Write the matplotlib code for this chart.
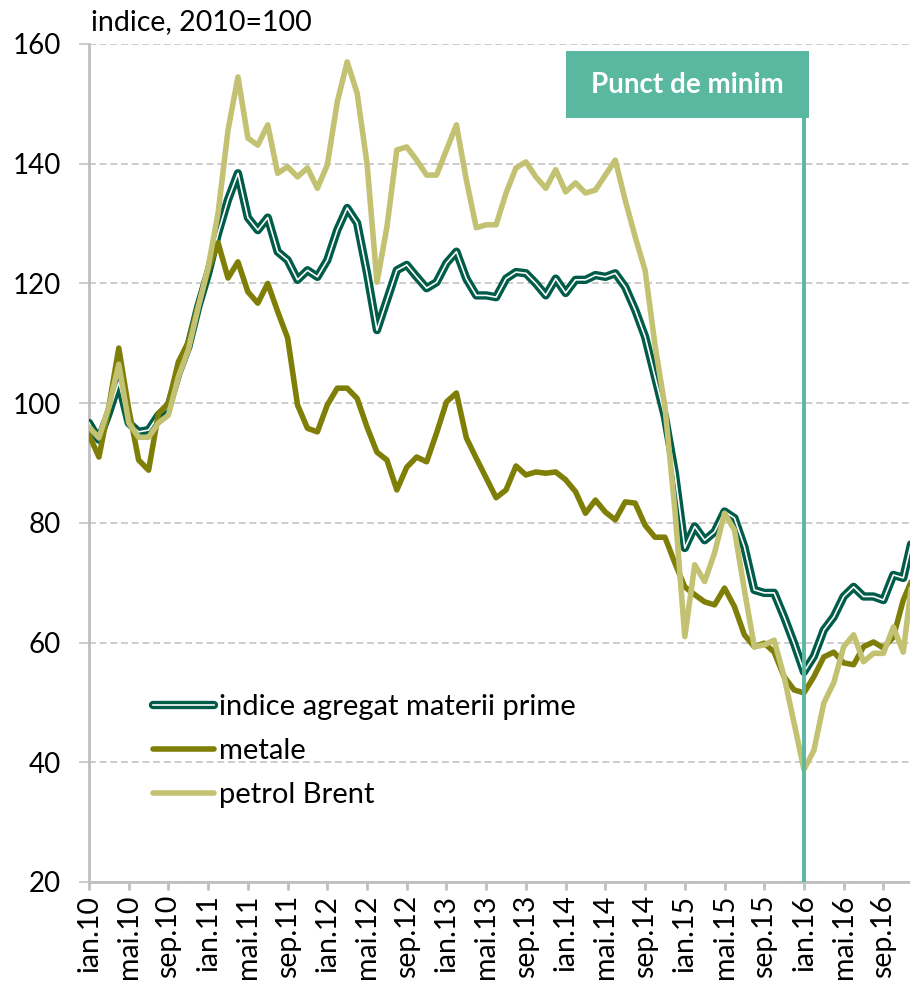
import matplotlib
matplotlib.use("Agg")
import matplotlib.pyplot as plt
from matplotlib.lines import Line2D
from matplotlib.patches import Rectangle
from matplotlib.legend_handler import HandlerTuple
import numpy as np

plt.rcParams['font.family'] = ['Lato', 'DejaVu Sans']

# monthly data, ian.10 ... dec.16 (last point partly clipped)
agregat = [96.7, 93.9, 98.4, 103.5, 96.7, 95.2, 95.5, 98.0, 99.4, 105.0,
           109.4, 116.1, 121.7, 128.4, 134.0, 138.4, 131.0, 128.9, 131.0, 125.3,
           123.9, 120.6, 122.2, 121.1, 123.9, 128.9, 132.6, 130.1, 121.7, 112.2,
           117.2, 122.2, 123.1, 121.1, 119.2, 120.2, 123.4, 125.3, 120.8, 118.0,
           118.0, 117.7, 120.8, 121.9, 121.7, 120.0, 118.0, 120.8, 118.4, 120.6,
           120.6, 121.4, 121.1, 121.7, 119.4, 115.6, 111.1, 104.4, 97.7, 88.3,
           75.8, 79.4, 77.1, 78.5, 81.9, 80.8, 76.0, 68.8, 68.3, 68.3,
           64.3, 59.9, 55.1, 57.7, 62.1, 64.3, 67.7, 69.3, 67.7, 67.7,
           67.1, 71.3, 70.8, 78.0]
metale = [94.7, 91.0, 99.4, 109.2, 99.0, 90.5, 88.8, 98.3, 100.0, 106.9,
          110.2, 116.4, 122.2, 126.8, 120.9, 123.6, 118.6, 116.7, 120.0, 115.3,
          110.9, 99.7, 95.8, 95.2, 99.7, 102.5, 102.5, 100.8, 96.0, 91.8,
          90.5, 85.5, 89.3, 91.0, 90.2, 95.0, 100.2, 101.7, 94.2, 90.8,
          87.5, 84.2, 85.5, 89.5, 88.0, 88.5, 88.3, 88.5, 87.2, 85.2,
          81.6, 83.8, 81.8, 80.5, 83.5, 83.3, 79.6, 77.6, 77.6, 73.3,
          69.3, 68.0, 66.8, 66.3, 69.1, 66.0, 61.3, 59.3, 59.9, 58.4,
          54.3, 52.1, 51.6, 54.3, 57.6, 58.4, 56.6, 56.3, 59.3, 60.1,
          59.1, 60.9, 67.1, 71.0]
brent = [96.0, 94.2, 99.4, 106.5, 96.7, 94.3, 94.3, 96.7, 98.0, 104.4,
         108.9, 116.0, 122.7, 131.8, 145.6, 154.5, 144.3, 143.1, 146.5, 138.4,
         139.5, 137.8, 139.3, 135.9, 139.8, 150.3, 157.0, 151.8, 140.0, 120.2,
         129.4, 142.3, 142.8, 140.6, 138.1, 138.1, 142.3, 146.5, 137.3, 129.3,
         129.8, 129.8, 135.1, 139.3, 140.3, 137.8, 135.9, 139.0, 135.3, 136.8,
         135.1, 135.6, 138.1, 140.6, 133.9, 127.8, 122.2, 109.7, 99.4, 82.2,
         61.0, 73.0, 70.2, 75.0, 81.6, 78.8, 68.8, 59.3, 59.6, 60.4,
         54.3, 46.6, 38.8, 42.0, 49.9, 53.3, 59.3, 61.3, 56.8, 58.2,
         58.2, 62.6, 58.4, 72.0]

luni = ['ian', 'mai', 'sep']
ani = ['10', '11', '12', '13', '14', '15', '16']
tick_labels = [f"{m}.{a}" for a in ani for m in luni]
serie_names = ['indice agregat materii prime', 'metale', 'petrol Brent']
minim_label = 'Punct de minim'
minim_index = 72  # ian.16

c_agg = '#005C48'
c_met = '#7F7F08'
c_brent = '#C3C172'
c_teal = '#5BB8A0'
c_grid = '#BFBFBF'

W, H = 910, 991
fig = plt.figure(figsize=(W / 100, H / 100), dpi=100)
x_left, x_right, y_top, y_bot = 89, 910, 44, 882
ax = fig.add_axes([x_left / W, (H - y_bot) / H, (x_right - x_left) / W, (y_bot - y_top) / H])

x = np.arange(len(agregat))
ax.set_xlim(0, (x_right - x_left) / 9.93)
ax.set_ylim(20, 160)

ax.set_yticks(np.arange(20, 161, 20))
ax.yaxis.grid(True, linestyle=(0, (4.5, 2.5)), color=c_grid, linewidth=1.1)
ax.set_axisbelow(True)
ax.set_xticks(np.arange(0, 81, 4))
ax.set_xticklabels(tick_labels, rotation=90)
ax.tick_params(axis='x', length=6, width=2, color=c_grid, pad=3, labelsize=20.5)
ax.tick_params(axis='y', length=7, width=1.1, color=c_grid, pad=13, labelsize=20)
for s in ['top', 'right']:
    ax.spines[s].set_visible(False)
for s in ['left', 'bottom']:
    ax.spines[s].set_color(c_grid)
    ax.spines[s].set_linewidth(2)

LW_AGG, LW_IN, LW = 6.0, 1.2, 4.0
ax.plot(x, agregat, color=c_agg, lw=LW_AGG, solid_joinstyle='round', solid_capstyle='round', zorder=3)
ax.plot(x, agregat, color='white', lw=LW_IN, solid_joinstyle='round', zorder=3.1)
ax.plot(x, metale, color=c_met, lw=LW, solid_joinstyle='round', solid_capstyle='round', zorder=3.2)
ax.plot(x, brent, color=c_brent, lw=LW, solid_joinstyle='round', solid_capstyle='round', zorder=3.3)

# vertical marker and label box
box_top, box_bot = 158.8, 147.6
ax.plot([minim_index, minim_index], [20, box_bot], color=c_teal, lw=2.8, zorder=4)
box_l, box_r = 48.0, 72.5
ax.add_patch(Rectangle((box_l, box_bot), box_r - box_l, box_top - box_bot,
                       facecolor=c_teal, edgecolor='none', zorder=5))
ax.text((box_l + box_r) / 2, (box_top + box_bot) / 2, minim_label, color='white',
        fontsize=20, fontweight='bold', ha='center', va='center', zorder=6)

fig.text(91 / W, 1 - 22 / H, 'indice, 2010=100', fontsize=20.5, ha='left', va='center')

h_agg = (Line2D([], [], color=c_agg, lw=LW_AGG, solid_capstyle='round'),
         Line2D([], [], color='white', lw=LW_IN))
h_met = Line2D([], [], color=c_met, lw=LW, solid_capstyle='round')
h_brent = Line2D([], [], color=c_brent, lw=LW, solid_capstyle='round')
fig.legend([h_agg, h_met, h_brent], serie_names,
           handler_map={tuple: HandlerTuple(ndivide=1, pad=0)},
           loc='upper left', bbox_to_anchor=(153 / W, 1 - 694 / H),
           frameon=False, fontsize=21, handlelength=2.1, handletextpad=0.15,
           labelspacing=0.62, borderpad=0, borderaxespad=0)

fig.savefig('out.png', dpi=100)
